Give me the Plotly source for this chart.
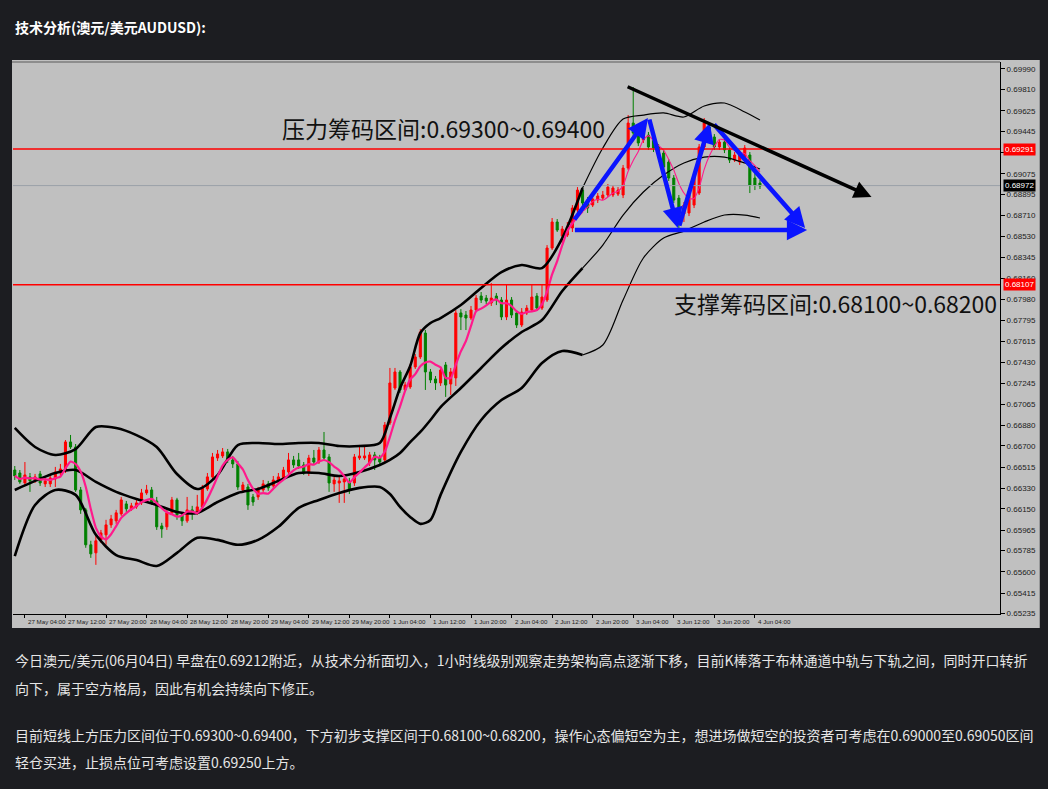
import plotly.graph_objects as go
import pandas as pd

# ---------------- data (AUDUSD H1) ----------------
open_ = [0.66489,0.66463,0.66376,0.66429,0.66402,0.66455,0.66368,0.66368,0.66411,0.66463,
         0.66489,0.66734,0.66690,0.66315,0.66141,0.65836,0.65766,0.65879,0.65923,0.66010,
         0.66045,0.66106,0.66193,0.66150,0.66167,0.66202,0.66289,0.66315,0.66219,0.66001,
         0.65993,0.66115,0.66228,0.66097,0.66045,0.66141,0.66115,0.66167,0.66324,0.66429,
         0.66594,0.66612,0.66647,0.66577,0.66542,0.66315,0.66341,0.66254,0.66254,0.66315,
         0.66368,0.66350,0.66385,0.66420,0.66472,0.66577,0.66577,0.66533,0.66472,0.66594,
         0.66559,0.66664,0.66603,0.66368,0.66376,0.66385,0.66385,0.66376,0.66594,0.66594,
         0.66551,0.66621,0.66594,0.66577,0.66900,0.67205,0.67345,0.67188,0.67214,0.67389,
         0.67476,0.67685,0.67345,0.67284,0.67249,0.67406,0.67240,0.67293,0.67860,0.67842,
         0.67816,0.67886,0.68008,0.67990,0.67947,0.68008,0.67973,0.67825,0.67973,0.67860,
         0.67755,0.67860,0.67886,0.68008,0.67903,0.67973,0.68427,0.68654,0.68532,0.68540,
         0.68602,0.68759,0.68933,0.68846,0.68802,0.68846,0.68863,0.68890,0.68890,0.68898,
         0.68890,0.69125,0.69518,0.69448,0.69370,0.69413,0.69370,0.69309,0.69256,0.69178,
         0.69038,0.68863,0.68724,0.68733,0.68802,0.68907,0.69309,0.69483,0.69396,0.69309,
         0.69352,0.69283,0.69195,0.69178,0.69195,0.69239,0.69038,0.68994]
high = [0.66524,0.66489,0.66559,0.66463,0.66455,0.66481,0.66420,0.66446,0.66516,0.66542,
        0.66751,0.66795,0.66716,0.66341,0.66158,0.65871,0.65914,0.65966,0.66054,0.66097,
        0.66141,0.66254,0.66219,0.66202,0.66228,0.66324,0.66359,0.66341,0.66254,0.66028,
        0.66141,0.66254,0.66246,0.66123,0.66254,0.66176,0.66272,0.66359,0.66463,0.66638,
        0.66664,0.66681,0.66673,0.66612,0.66568,0.66385,0.66368,0.66280,0.66341,0.66402,
        0.66394,0.66437,0.66463,0.66516,0.66638,0.66612,0.66638,0.66559,0.66621,0.66664,
        0.66690,0.66821,0.66629,0.66429,0.66437,0.66455,0.66420,0.66629,0.66708,0.66690,
        0.66647,0.66647,0.66621,0.66908,0.67380,0.67380,0.67362,0.67258,0.67415,0.67502,
        0.67720,0.67712,0.67371,0.67310,0.67389,0.67432,0.67380,0.67886,0.67894,0.67877,
        0.67921,0.68017,0.68043,0.68017,0.68121,0.68034,0.67999,0.68104,0.67999,0.67886,
        0.67903,0.67929,0.68104,0.68034,0.68104,0.68453,0.68689,0.68680,0.68619,0.68654,
        0.68802,0.68959,0.68959,0.68872,0.68890,0.68907,0.68925,0.68986,0.68977,0.68959,
        0.69152,0.69588,0.69832,0.69475,0.69475,0.69440,0.69396,0.69335,0.69283,0.69204,
        0.69064,0.68890,0.68829,0.68916,0.69073,0.69335,0.69562,0.69509,0.69422,0.69379,
        0.69379,0.69309,0.69265,0.69283,0.69326,0.69265,0.69108,0.69021]
low = [0.66402,0.66368,0.66350,0.66298,0.66376,0.66350,0.66341,0.66341,0.66341,0.66429,
       0.66463,0.66673,0.66298,0.66106,0.65810,0.65722,0.65661,0.65853,0.65836,0.65984,
       0.66019,0.66089,0.66123,0.66132,0.66150,0.66184,0.66272,0.66184,0.65966,0.65897,
       0.65966,0.66097,0.66054,0.66001,0.66028,0.66054,0.66097,0.66150,0.66307,0.66411,
       0.66568,0.66594,0.66551,0.66507,0.66315,0.66289,0.66141,0.66176,0.66228,0.66298,
       0.66307,0.66324,0.66368,0.66402,0.66455,0.66507,0.66498,0.66446,0.66437,0.66533,
       0.66542,0.66568,0.66298,0.66298,0.66202,0.66202,0.66280,0.66350,0.66577,0.66577,
       0.66524,0.66489,0.66533,0.66551,0.66882,0.67188,0.67162,0.67170,0.67197,0.67371,
       0.67458,0.67188,0.67249,0.67188,0.67223,0.67127,0.67144,0.67223,0.67711,0.67711,
       0.67798,0.67868,0.67947,0.67938,0.67921,0.67929,0.67798,0.67798,0.67816,0.67729,
       0.67737,0.67842,0.67868,0.67877,0.67886,0.67956,0.68410,0.68567,0.68471,0.68523,
       0.68567,0.68733,0.68794,0.68733,0.68785,0.68820,0.68846,0.68872,0.68872,0.68881,
       0.68863,0.69108,0.69396,0.69317,0.69344,0.69283,0.69265,0.69195,0.69108,0.69012,
       0.68820,0.68575,0.68654,0.68706,0.68776,0.68890,0.69283,0.69361,0.69283,0.69283,
       0.69256,0.69169,0.69178,0.69152,0.69169,0.68907,0.68933,0.68942]
close = [0.66437,0.66385,0.66446,0.66394,0.66429,0.66376,0.66394,0.66420,0.66472,0.66498,
         0.66734,0.66690,0.66315,0.66141,0.65836,0.65757,0.65871,0.65940,0.66010,0.66062,
         0.66115,0.66228,0.66150,0.66176,0.66202,0.66289,0.66315,0.66202,0.65993,0.65975,
         0.66115,0.66228,0.66097,0.66045,0.66141,0.66115,0.66167,0.66333,0.66429,0.66603,
         0.66629,0.66647,0.66577,0.66542,0.66341,0.66359,0.66184,0.66210,0.66315,0.66368,
         0.66333,0.66402,0.66429,0.66489,0.66577,0.66533,0.66524,0.66472,0.66594,0.66559,
         0.66664,0.66594,0.66376,0.66402,0.66394,0.66411,0.66315,0.66603,0.66612,0.66612,
         0.66621,0.66577,0.66559,0.66882,0.67249,0.67345,0.67188,0.67231,0.67389,0.67476,
         0.67694,0.67345,0.67275,0.67249,0.67362,0.67231,0.67345,0.67860,0.67825,0.67816,
         0.67886,0.67990,0.67973,0.67964,0.67990,0.67973,0.67825,0.67973,0.67842,0.67755,
         0.67868,0.67903,0.67999,0.67903,0.67999,0.68427,0.68654,0.68584,0.68593,0.68610,
         0.68776,0.68933,0.68820,0.68776,0.68855,0.68881,0.68890,0.68959,0.68951,0.68933,
         0.69125,0.69518,0.69431,0.69344,0.69440,0.69309,0.69300,0.69221,0.69134,0.69038,
         0.68846,0.68715,0.68802,0.68890,0.69047,0.69309,0.69518,0.69387,0.69309,0.69352,
         0.69283,0.69195,0.69239,0.69239,0.69300,0.68977,0.68977,0.68968]

# Bollinger band lines as drawn (sampled at candle indices)
band_idx = [0,4,8,12,16,20,24,28,32,36,40,44,48,52,56,60,64,68,72,74,76,78,80,82,84,
            88,92,96,100,104,108,112,116,120,124,128,132,136,140,144,147]
bb_upper = [0.66856,0.66690,0.66620,0.66672,0.66864,0.66856,0.66794,0.66690,0.66454,0.66323,
            0.66445,0.66707,0.66725,0.66716,0.66725,0.66725,0.66698,0.66698,0.66725,0.66943,
            0.67205,0.67397,0.67685,0.67772,0.67816,0.67929,0.68078,0.68217,0.68279,0.68252,
            0.68514,0.68951,0.69300,0.69553,0.69588,0.69606,0.69571,0.69667,0.69693,0.69614,0.69544]
bb_mid = [0.66315,0.66394,0.66463,0.66489,0.66385,0.66298,0.66236,0.66184,0.66123,0.66115,
          0.66210,0.66289,0.66324,0.66394,0.66463,0.66463,0.66437,0.66472,0.66533,0.66577,
          0.66638,0.66733,0.66821,0.66926,0.67039,0.67205,0.67380,0.67554,0.67694,0.67798,
          0.68052,0.68252,0.68453,0.68715,0.68916,0.69064,0.69169,0.69221,0.69221,0.69169,0.69117]
bb_lower = [0.65738,0.66184,0.66315,0.66272,0.65923,0.65747,0.65703,0.65651,0.65766,0.65897,
            0.65879,0.65836,0.65879,0.65993,0.66158,0.66228,0.66289,0.66333,0.66341,0.66280,
            0.66167,0.66079,0.66019,0.66053,0.66272,0.66647,0.66926,0.67100,0.67205,0.67423,
            0.67528,0.67493,0.67580,0.67973,0.68340,0.68514,0.68575,0.68654,0.68715,0.68715,0.68689]

x_tick_idx = [2,10,18,26,34,42,50,58,66,74,82,90,98,106,114,122,130,138,146]
x_tick_labels = ["27 May 04:00","27 May 12:00","27 May 20:00","28 May 04:00","28 May 12:00",
                 "28 May 20:00","29 May 04:00","29 May 12:00","29 May 20:00","1 Jun 04:00",
                 "1 Jun 12:00","1 Jun 20:00","2 Jun 04:00","2 Jun 12:00","2 Jun 20:00",
                 "3 Jun 04:00","3 Jun 12:00","3 Jun 20:00","4 Jun 04:00"]
y_tick_vals = [0.69990,0.69810,0.69625,0.69445,0.69260,0.69075,0.68895,0.68710,0.68530,0.68345,
               0.68160,0.67980,0.67795,0.67615,0.67430,0.67245,0.67065,0.66880,0.66700,0.66515,
               0.66330,0.66150,0.65965,0.65785,0.65600,0.65415,0.65235]

resistance_level = 0.69291
support_level = 0.68107
bid_level = 0.68972

resistance_text = "压力筹码区间:0.69300~0.69400"
support_text = "支撑筹码区间:0.68100~0.68200"
title_text = "技术分析(澳元/美元AUDUSD):"
para_lines = [
    "今日澳元/美元(06月04日) 早盘在0.69212附近，从技术分析面切入，1小时线级别观察走势架构高点逐渐下移，目前K棒落于布林通道中轨与下轨之间，同时开口转折",
    "向下，属于空方格局，因此有机会持续向下修正。",
    "目前短线上方压力区间位于0.69300~0.69400，下方初步支撑区间于0.68100~0.68200，操作心态偏短空为主，想进场做短空的投资者可考虑在0.69000至0.69050区间",
    "轻仓买进，止损点位可考虑设置0.69250上方。",
]

# pattern arrows drawn on the chart (tail idx, tail price, head idx, head price)
blue_arrows = [(110.2, 0.68663, 124.9, 0.69562),
               (125.1, 0.69562, 130.8, 0.68602),
               (131.0, 0.68610, 137.1, 0.69518),
               (137.7, 0.69518, 155.9, 0.68602),
               (110.2, 0.68584, 156.3, 0.68584)]
trend_arrow = (120.6, 0.69841, 169.0, 0.68872)

# ---------------- layout helpers ----------------
W, H = 1048, 789
L, R, T, B = 13, 42, 62, 175
PW, PH = W - L - R, H - T - B


def px_x(px):
    return (px - L) / PW


def px_y(py):
    return (H - B - py) / PH


idx = list(range(len(close)))
ma5 = pd.Series(close).rolling(5, min_periods=1).mean().tolist()
SPLIT = 112

fig = go.Figure()

fig.add_trace(go.Candlestick(
    x=idx, open=open_, high=high, low=low, close=close,
    increasing=dict(line=dict(color="#ff0000", width=1), fillcolor="#ff0000"),
    decreasing=dict(line=dict(color="#008000", width=1), fillcolor="#008000"),
    whiskerwidth=0, showlegend=False, hoverinfo="skip"))

k = band_idx.index(SPLIT)
for series in (bb_upper, bb_mid, bb_lower):
    fig.add_trace(go.Scatter(x=band_idx[:k + 1], y=series[:k + 1], mode="lines",
                             line=dict(color="#000000", width=2.6, shape="spline", smoothing=0.8),
                             showlegend=False, hoverinfo="skip"))
    fig.add_trace(go.Scatter(x=band_idx[k:], y=series[k:], mode="lines",
                             line=dict(color="#000000", width=1.2, shape="spline", smoothing=0.8),
                             showlegend=False, hoverinfo="skip"))

fig.add_trace(go.Scatter(x=idx[:SPLIT + 1], y=ma5[:SPLIT + 1], mode="lines",
                         line=dict(color="#ff1a8c", width=2.2, shape="spline", smoothing=0.6),
                         showlegend=False, hoverinfo="skip"))
fig.add_trace(go.Scatter(x=idx[SPLIT:], y=ma5[SPLIT:], mode="lines",
                         line=dict(color="#ff1a8c", width=1.1, shape="spline", smoothing=0.6),
                         showlegend=False, hoverinfo="skip"))

shapes = [
    dict(type="rect", xref="paper", yref="paper", x0=px_x(12), x1=px_x(1046),
         y0=px_y(628), y1=px_y(60), fillcolor="#c0c0c0", line=dict(width=0), layer="below"),
    dict(type="line", xref="paper", yref="paper", x0=px_x(12), x1=1, y0=1, y1=1,
         line=dict(color="#5a5a5a", width=1)),
    dict(type="line", xref="paper", yref="y", x0=0, x1=1, y0=bid_level, y1=bid_level,
         line=dict(color="#9aa0a8", width=1)),
    dict(type="line", xref="paper", yref="y", x0=0, x1=1, y0=resistance_level, y1=resistance_level,
         line=dict(color="#ff0000", width=1.6)),
    dict(type="line", xref="paper", yref="y", x0=0, x1=1, y0=support_level, y1=support_level,
         line=dict(color="#ff0000", width=1.6)),
]

ann = []
# x tick labels (MT4 style: text to the right of the tick)
for xv, lab in zip(x_tick_idx, x_tick_labels):
    ann.append(dict(x=xv, y=px_y(621), xref="x", yref="paper", text=lab, showarrow=False,
                    xanchor="left", yanchor="middle", xshift=1,
                    font=dict(family="Liberation Sans, Arial", size=6.2, color="#202020")))

# price labels on the right axis
for lvl, bg in ((resistance_level, "#ff0000"), (support_level, "#ff0000"), (bid_level, "#000000")):
    ann.append(dict(x=px_x(1009), y=lvl, xref="paper", yref="y", text=f"{lvl:.5f}",
                    showarrow=False, xanchor="left", yanchor="middle", bgcolor=bg, borderpad=1,
                    font=dict(family="Liberation Sans, Arial", size=8, color="#ffffff")))

cjk = "Noto Sans CJK SC, Noto Sans, sans-serif"
ann.append(dict(x=px_x(446), y=px_y(128), xref="paper", yref="paper", text=resistance_text,
                showarrow=False, xanchor="center", yanchor="middle",
                font=dict(family=cjk, size=23, color="#111111")))
ann.append(dict(x=px_x(841), y=px_y(303), xref="paper", yref="paper", text=support_text,
                showarrow=False, xanchor="center", yanchor="middle",
                font=dict(family=cjk, size=23, color="#111111")))

for (x0, y0, x1, y1) in blue_arrows:
    ann.append(dict(x=x1, y=y1, ax=x0, ay=y0, xref="x", yref="y", axref="x", ayref="y",
                    text="", showarrow=True, arrowhead=2, arrowsize=0.9, arrowwidth=4.5,
                    arrowcolor="#0a14ff", standoff=0, startstandoff=0))
x0, y0, x1, y1 = trend_arrow
ann.append(dict(x=x1, y=y1, ax=x0, ay=y0, xref="x", yref="y", axref="x", ayref="y",
                text="", showarrow=True, arrowhead=2, arrowsize=1.0, arrowwidth=3.5,
                arrowcolor="#000000", standoff=0, startstandoff=0))

# page texts
ann.append(dict(x=px_x(13), y=px_y(27), xref="paper", yref="paper", text="<b>" + title_text + "</b>",
                showarrow=False, xanchor="left", yanchor="middle",
                font=dict(family=cjk, size=14, color="#ffffff")))
for py, line in zip((660, 688, 735, 762), para_lines):
    ann.append(dict(x=px_x(13), y=px_y(py), xref="paper", yref="paper", text=line,
                    showarrow=False, xanchor="left", yanchor="middle",
                    font=dict(family=cjk, size=14, color="#e6e6e6")))

fig.update_layout(
    width=W, height=H, margin=dict(l=L, r=R, t=T, b=B, pad=0),
    paper_bgcolor="#1c1d21", plot_bgcolor="#c0c0c0",
    boxgap=0.42,
    shapes=shapes, annotations=ann,
    xaxis=dict(range=[-0.35, 194.35], showgrid=False, zeroline=False, rangeslider=dict(visible=False),
               tickvals=x_tick_idx, showticklabels=False, ticks="outside", ticklen=3,
               tickcolor="#000000", showline=True, linecolor="#000000", linewidth=1),
    yaxis=dict(range=[0.65232, 0.70051], side="right", showgrid=False, zeroline=False,
               tickvals=y_tick_vals, ticktext=[f"{v:.5f}" for v in y_tick_vals],
               ticks="outside", ticklen=4, tickcolor="#000000",
               tickfont=dict(family="Liberation Sans, Arial", size=8, color="#202020"),
               showline=True, linecolor="#000000", linewidth=1),
    showlegend=False,
)

fig.write_html("out.html",
               config={"displayModeBar": False},
               post_script="document.body.style.margin='0';"
                           "document.body.style.background='#1c1d21';")
